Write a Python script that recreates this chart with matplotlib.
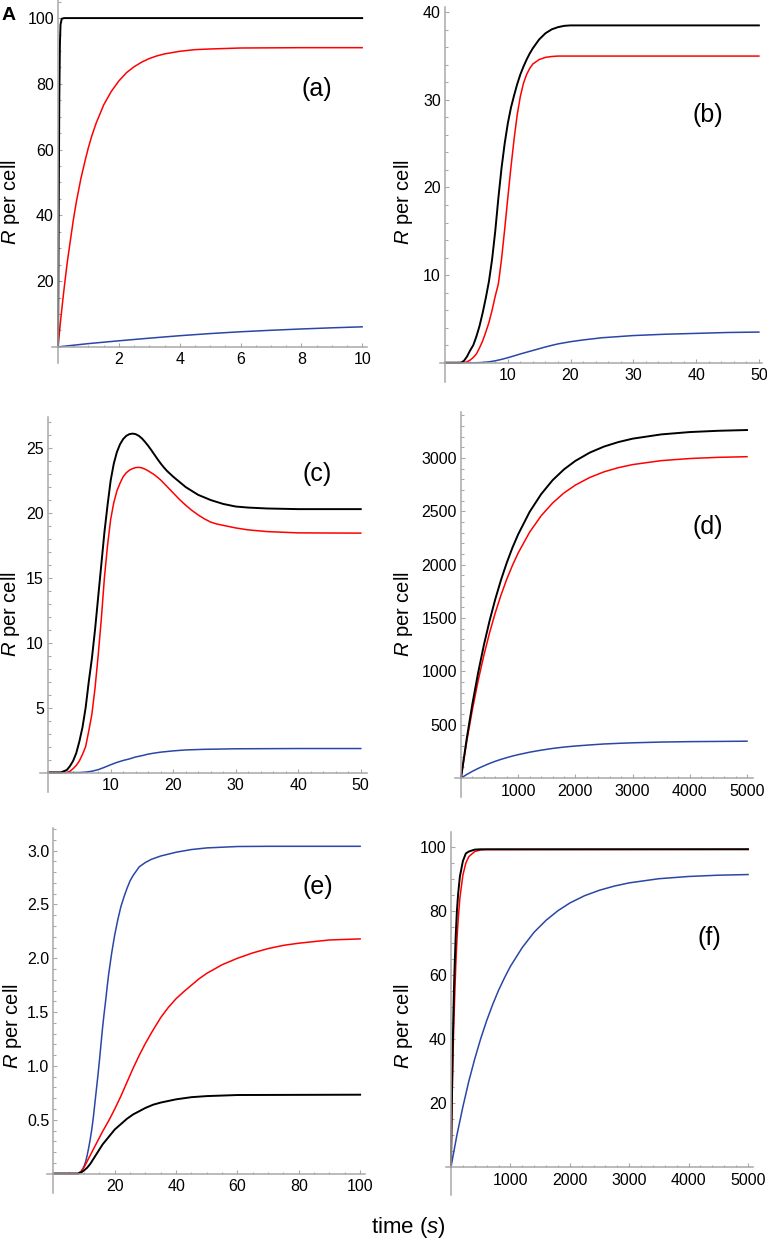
import numpy as np
import matplotlib
matplotlib.use("Agg")
import matplotlib.pyplot as plt
from matplotlib.ticker import FixedLocator

OUTPUT_PATH = "out.png"
W, H = 767, 1239

plt.rcParams["font.family"] = ["Liberation Sans", "DejaVu Sans"]
plt.rcParams["mathtext.fontset"] = "custom"
plt.rcParams["mathtext.rm"] = "Liberation Sans"
plt.rcParams["mathtext.it"] = "Liberation Sans:italic"

BLACK = "#000000"
RED = "#ff0000"
BLUE = "#2a46a6"
AXIS_GREY = "#a8a8a8"

# ---- panel (a) ----
t_a_black = [0, 0.02, 0.04, 0.06, 0.08, 0.12, 0.2, 10]
r_a_black = [0, 40, 75, 92, 98, 99.8, 100, 100]
t_a_red = [0, 0.05, 0.1, 0.15, 0.2, 0.3, 0.4, 0.5, 0.6, 0.75, 0.9, 1.0, 1.1, 1.25, 1.5, 1.75,
           2.0, 2.25, 2.5, 2.75, 3.0, 3.25, 3.5, 4, 4.5, 5, 6, 8, 10]
r_a_red = [0, 5.0, 9.5, 13.8, 17.9, 25.6, 32.1, 38.5, 44.1, 51.2, 57.1, 60.7, 63.9, 68.0, 73.6, 77.7,
           80.9, 83.4, 85.2, 86.6, 87.7, 88.5, 89.1, 89.9, 90.4, 90.6, 90.9, 91, 91]
t_a_blue = [0, 0.5, 1, 2, 3, 4, 5, 6, 7, 8, 9, 10]
r_a_blue = [0, 0.5, 1.0, 1.85, 2.65, 3.4, 4.05, 4.6, 5.05, 5.45, 5.8, 6.1]

# ---- panel (b) ----
t_b_black = [0, 2.5, 3, 3.5, 4, 4.5, 5, 5.5, 6, 6.5, 7, 7.5, 8, 8.5, 9, 9.5, 10, 10.5, 11, 11.5,
             12, 12.5, 13, 13.5, 14, 14.5, 15, 16, 17, 18, 19, 20, 50]
r_b_black = [0, 0, 0.2, 0.7, 1.4, 2.0, 3.0, 4.2, 5.7, 7.4, 9.3, 11.8, 15, 18.8, 22.2, 25.0, 27.3,
             29.1, 30.5, 31.8, 32.9, 33.8, 34.6, 35.3, 35.9, 36.4, 36.9, 37.6, 38.05, 38.3, 38.45,
             38.5, 38.5]
t_b_red = [0, 3, 3.5, 4, 4.5, 5, 5.5, 6, 6.5, 7, 7.5, 8, 8.5, 9, 9.5, 10, 10.5, 11, 11.5, 12, 12.5,
           13, 13.5, 14, 15, 16, 17, 18, 50]
r_b_red = [0, 0, 0.1, 0.3, 0.6, 1.0, 1.7, 2.5, 3.5, 4.6, 6.0, 7.6, 9.0, 11.8, 15.2, 18.8, 22.3, 25.5,
           28.3, 30.4, 31.9, 32.9, 33.6, 34.1, 34.6, 34.85, 34.95, 35, 35]
t_b_blue = [0, 5, 6, 7, 8, 9, 10, 11, 12, 13, 14, 15, 16, 17, 18, 20, 22, 25, 30, 35, 40, 45, 50]
r_b_blue = [0, 0, 0.03, 0.1, 0.22, 0.38, 0.57, 0.78, 1.0, 1.2, 1.4, 1.6, 1.8, 1.98, 2.15, 2.4, 2.6,
            2.85, 3.1, 3.25, 3.35, 3.45, 3.5]

# ---- panel (c) ----
t_c_black = [0, 2, 3, 3.5, 4, 4.5, 5, 5.5, 6, 6.5, 7, 7.5, 8, 8.5, 9, 9.5, 10, 10.5, 11, 11.5, 12,
             12.5, 13, 13.5, 14, 14.5, 15, 15.5, 16, 16.5, 17, 17.5, 18, 18.5, 19, 20, 21, 22, 23,
             24, 25, 26, 28, 30, 32, 35, 40, 50]
r_c_black = [0, 0, 0.2, 0.5, 0.9, 1.5, 2.4, 3.5, 5, 7, 8.8, 11, 13.5, 16, 18.5, 20.6, 22.5, 23.8,
             24.7, 25.3, 25.7, 25.95, 26.08, 26.12, 26.08, 25.95, 25.75, 25.48, 25.18, 24.85, 24.5,
             24.15, 23.82, 23.52, 23.25, 22.8, 22.4, 22.0, 21.7, 21.4, 21.2, 21.0, 20.7, 20.5,
             20.42, 20.35, 20.3, 20.3]
t_c_red = [0, 3, 3.5, 4, 4.5, 5, 5.5, 6, 6.5, 7, 7.5, 8, 8.5, 9, 9.5, 10, 10.5, 11, 11.5, 12, 12.5,
           13, 13.5, 14, 14.5, 15, 15.5, 16, 17, 18, 19, 20, 21, 22, 23, 24, 25, 26, 27, 28, 30,
           32, 35, 40, 50]
r_c_red = [0, 0, 0.1, 0.3, 0.55, 0.9, 1.4, 2.0, 3.2, 4.5, 6.5, 9, 11.8, 15, 17.5, 19.5, 20.8, 21.7,
           22.3, 22.8, 23.1, 23.3, 23.42, 23.5, 23.52, 23.48, 23.38, 23.25, 22.95, 22.55, 22.05,
           21.55, 21.05, 20.6, 20.2, 19.85, 19.55, 19.3, 19.15, 19.05, 18.85, 18.7, 18.57, 18.47,
           18.45]
t_c_blue = [0, 5, 6, 7, 8, 9, 10, 11, 12, 13, 14, 15, 16, 17, 18, 20, 22, 25, 30, 40, 50]
r_c_blue = [0, 0, 0.03, 0.1, 0.22, 0.4, 0.6, 0.78, 0.93, 1.05, 1.2, 1.3, 1.42, 1.5, 1.57, 1.67,
            1.74, 1.79, 1.83, 1.85, 1.85]

# ---- panel (d) ----
t_d = [0, 100, 200, 300, 400, 500, 600, 700, 800, 900, 1000, 1200, 1400, 1600, 1800, 2000, 2250,
       2500, 2750, 3000, 3500, 4000, 4500, 5000]
r_d_black = [0, 370, 698, 988, 1247, 1475, 1678, 1858, 2018, 2160, 2285, 2495, 2660, 2791, 2893,
             2973, 3050, 3107, 3149, 3181, 3221, 3243, 3255, 3262]
r_d_red = [0, 342, 644, 913, 1151, 1363, 1550, 1716, 1864, 1994, 2110, 2305, 2457, 2577, 2672,
           2746, 2817, 2870, 2909, 2938, 2975, 2995, 3006, 3012]
r_d_blue = [0, 33, 63, 90, 114, 137, 157, 175, 191, 206, 219, 242, 261, 277, 290, 300, 310, 319,
            325, 330, 337, 341, 343, 345]

# ---- panel (e) ----
t_e_black = [0, 8, 9, 10, 11, 12, 13, 14, 15, 16, 18, 20, 22, 24, 26, 28, 30, 32.5, 35, 37.5, 40,
             45, 50, 60, 100]
r_e_black = [0, 0, 0.01, 0.03, 0.055, 0.09, 0.135, 0.18, 0.225, 0.27, 0.34, 0.41, 0.46, 0.51,
             0.55, 0.58, 0.61, 0.64, 0.66, 0.675, 0.69, 0.71, 0.72, 0.73, 0.733]
t_e_red = [0, 8, 9, 10, 12, 14, 16, 18, 20, 22, 24, 26, 28, 30, 32, 35, 37.5, 40, 42.5, 45, 47.5,
           50, 55, 60, 65, 70, 75, 80, 90, 100]
r_e_red = [0, 0, 0.02, 0.06, 0.17, 0.28, 0.39, 0.49, 0.6, 0.72, 0.85, 0.98, 1.1, 1.21, 1.31, 1.45,
           1.545, 1.625, 1.69, 1.75, 1.81, 1.86, 1.94, 2.0, 2.05, 2.09, 2.12, 2.14, 2.17, 2.18]
t_e_blue = [0, 8, 9, 9.5, 10, 10.5, 11, 11.5, 12, 12.5, 13, 13.5, 14, 14.5, 15, 15.5, 16, 16.5, 17,
            17.5, 18, 19, 20, 21, 22, 23, 24, 25, 26, 27, 28, 30, 32, 35, 40, 45, 50, 60, 70, 100]
r_e_blue = [0, 0, 0.02, 0.04, 0.07, 0.11, 0.17, 0.24, 0.32, 0.41, 0.52, 0.65, 0.78, 0.91, 1.05,
            1.2, 1.35, 1.48, 1.6, 1.73, 1.85, 2.05, 2.22, 2.36, 2.48, 2.57, 2.65, 2.72, 2.77, 2.81,
            2.85, 2.89, 2.92, 2.95, 2.985, 3.01, 3.025, 3.038, 3.04, 3.04]

# ---- panel (f) ----
t_f_fast = [0, 10, 20, 30, 40, 50, 60, 80, 100, 120, 150, 200, 250, 300, 400, 500, 600, 5000]
r_f_black = [0, 15.0, 27.6, 38.6, 47.6, 55.6, 62.1, 72.5, 80.1, 85.3, 90.8, 95.6, 98.0, 98.6, 99.2,
             99.3, 99.3, 99.3]
r_f_red = [0, 11.7, 22, 31.1, 39.4, 46.0, 52, 62.8, 71, 77.1, 84.1, 91.2, 95.0, 97.0, 98.6, 99.1,
           99.2, 99.3]
t_f_blue = [0, 100, 200, 300, 400, 500, 600, 700, 800, 900, 1000, 1200, 1400, 1600, 1800, 2000,
            2250, 2500, 2750, 3000, 3500, 4000, 4500, 5000]
r_f_blue = [0, 10.0, 18.8, 26.8, 33.8, 40.1, 45.7, 50.7, 55.2, 59.1, 62.7, 68.6, 73.4, 77.1, 80.1,
            82.5, 84.8, 86.5, 87.8, 88.8, 90.1, 90.8, 91.2, 91.4]

x_ticks_a = [2, 4, 6, 8, 10]
y_ticks_a = [20, 40, 60, 80, 100]
x_ticks_b = [10, 20, 30, 40, 50]
y_ticks_b = [10, 20, 30, 40]
x_ticks_c = [10, 20, 30, 40, 50]
y_ticks_c = [5, 10, 15, 20, 25]
x_ticks_d = [1000, 2000, 3000, 4000, 5000]
y_ticks_d = [500, 1000, 1500, 2000, 2500, 3000]
x_ticks_e = [20, 40, 60, 80, 100]
y_ticks_e = [0.5, 1.0, 1.5, 2.0, 2.5, 3.0]
y_labels_e = ["0.5", "1.0", "1.5", "2.0", "2.5", "3.0"]
x_ticks_f = [1000, 2000, 3000, 4000, 5000]
y_ticks_f = [20, 40, 60, 80, 100]


def make_axes(fig, box, xlim, ylim):
    left, top, right, bottom = box
    ax = fig.add_axes([left / W, 1 - bottom / H, (right - left) / W, (bottom - top) / H])
    ax.set_xlim(*xlim)
    ax.set_ylim(*ylim)
    ax.patch.set_alpha(0)
    for s in ("top", "right"):
        ax.spines[s].set_visible(False)
    for s in ("left", "bottom"):
        ax.spines[s].set_position(("data", 0))
        ax.spines[s].set_color(AXIS_GREY)
        ax.spines[s].set_linewidth(1.1)
    ax.tick_params(which="both", direction="in", color=AXIS_GREY, labelsize=11.5, width=0.8)
    ax.tick_params(which="major", length=3)
    ax.tick_params(which="minor", length=1.8)
    ax.tick_params(axis="x", pad=4)
    ax.tick_params(axis="y", pad=3)
    return ax


def finish(ax, xt, yt, xminor, yminor, label_center, ylabels=None):
    ax.set_xticks(xt)
    if ylabels is None:
        ax.set_yticks(yt)
    else:
        ax.set_yticks(yt, labels=ylabels)
    x1 = ax.get_xlim()[1]
    y1 = ax.get_ylim()[1]
    ax.xaxis.set_minor_locator(FixedLocator(np.arange(xminor, x1, xminor)))
    ax.yaxis.set_minor_locator(FixedLocator(np.arange(yminor, y1, yminor)))
    ax.set_ylabel(r"$\mathit{R}$ per cell", fontsize=14.5, va="center")
    ax.yaxis.set_label_coords(label_center[0] / W, 1 - label_center[1] / H,
                              transform=ax.figure.transFigure)


def main():
    fig = plt.figure(figsize=(W / 100, H / 100), dpi=100)

    ax = make_axes(fig, (52, 0, 367, 363), (-0.2, 10.16), (-4.9, 105.5))
    ax.plot(t_a_blue, r_a_blue, color=BLUE, lw=1.1)
    ax.plot(t_a_red, r_a_red, color=RED, lw=1.1)
    ax.plot(t_a_black, r_a_black, color=BLACK, lw=1.4)
    finish(ax, x_ticks_a, y_ticks_a, 0.5, 5, (11, 202))

    ax = make_axes(fig, (440, 7, 762, 382), (-0.8, 50.5), (-2.2, 40.6))
    ax.plot(t_b_blue, r_b_blue, color=BLUE, lw=1.1)
    ax.plot(t_b_red, r_b_red, color=RED, lw=1.1)
    ax.plot(t_b_black, r_b_black, color=BLACK, lw=1.4)
    finish(ax, x_ticks_b, y_ticks_b, 2, 2, (403, 202))

    ax = make_axes(fig, (40, 417, 367, 792), (-1.3, 51), (-1.5, 27.4))
    ax.plot(t_c_blue, r_c_blue, color=BLUE, lw=1.1)
    ax.plot(t_c_red, r_c_red, color=RED, lw=1.1)
    ax.plot(t_c_black, r_c_black, color=BLACK, lw=1.4)
    finish(ax, x_ticks_c, y_ticks_c, 2, 1, (11, 614))

    ax = make_axes(fig, (455, 412, 753, 797), (-105, 5105), (-178, 3431))
    ax.plot(t_d, r_d_blue, color=BLUE, lw=1.1)
    ax.plot(t_d, r_d_red, color=RED, lw=1.1)
    ax.plot(t_d, r_d_black, color=BLACK, lw=1.4)
    finish(ax, x_ticks_d, y_ticks_d, 200, 100, (403, 614))

    ax = make_axes(fig, (47, 828, 365, 1193), (-2.1, 101.6), (-0.18, 3.21))
    ax.plot(t_e_blue, r_e_blue, color=BLUE, lw=1.1)
    ax.plot(t_e_red, r_e_red, color=RED, lw=1.1)
    ax.plot(t_e_black, r_e_black, color=BLACK, lw=1.4)
    finish(ax, x_ticks_e, y_ticks_e, 5, 0.1, (12, 1026), ylabels=y_labels_e)

    ax = make_axes(fig, (446, 832, 753, 1195), (-84, 5084), (-8.75, 104.7))
    ax.plot(t_f_blue, r_f_blue, color=BLUE, lw=1.1)
    ax.plot(t_f_fast, r_f_red, color=RED, lw=1.1)
    ax.plot(t_f_fast, r_f_black, color=BLACK, lw=1.4)
    finish(ax, x_ticks_f, y_ticks_f, 200, 5, (403, 1026))

    # panel tags
    tags = [("(a)", 317, 89), ("(b)", 708, 115), ("(c)", 317, 474),
            ("(d)", 708, 527), ("(e)", 318, 887), ("(f)", 709, 938)]
    for txt, x, y in tags:
        fig.text(x / W, 1 - y / H, txt, ha="center", va="center", fontsize=18)

    fig.text(9 / W, 1 - 15 / H, "A", ha="center", va="center", fontsize=14, fontweight="bold")
    fig.text(408 / W, 1 - 1227 / H, r"time ($\mathit{s}$)", ha="center", va="center", fontsize=16)

    fig.savefig(OUTPUT_PATH, dpi=100)
    plt.close(fig)


if __name__ == "__main__":
    main()
